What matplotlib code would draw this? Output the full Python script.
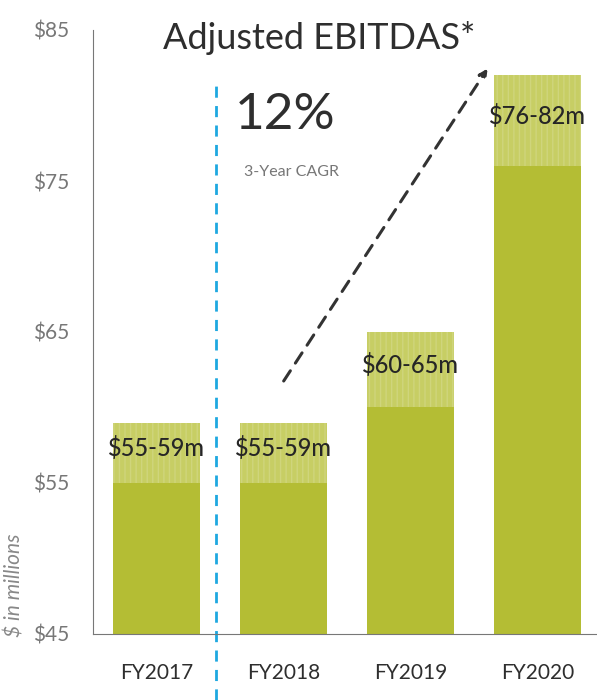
import numpy as np
import matplotlib.pyplot as plt

years = ["FY2017", "FY2018", "FY2019", "FY2020"]
low = [55, 55, 60, 76]
high = [59, 59, 65, 82]
yticks = [45, 55, 65, 75, 85]

solid = "#b4bd34"
light = "#c7ce64"

plt.rcParams['font.family'] = ['Lato', 'DejaVu Sans']

fig = plt.figure(figsize=(5.97, 7.0), dpi=100)
ax = fig.add_axes([93/597, 66/700, 504/597, 604/700])

x = np.arange(len(years))
base = yticks[0]
ax.bar(x, np.array(low) - base, bottom=base, width=0.69, color=solid, linewidth=0)
ax.bar(x, np.array(high) - np.array(low), bottom=low, width=0.69, color=light,
       linewidth=0, hatch='|||', edgecolor="#cfd57c")

for i in range(len(years)):
    ax.text(x[i], (low[i] + high[i]) / 2 + 0.3, "$%d-%dm" % (low[i], high[i]),
            ha='center', va='center', fontsize=17, color="#262626",
            fontweight='medium')

ax.set_xlim(-0.5, 3.47)
ax.set_ylim(45, 85)
ax.set_xticks(x)
ax.set_xticklabels(years, fontsize=15, color="#2e2e2e")
ax.set_yticks(yticks)
ax.set_yticklabels(["$%d" % v for v in yticks], fontsize=15, color="#777777")
ax.tick_params(length=0, pad=17)
ax.tick_params(axis='x', pad=21)
for s in ['top', 'right']:
    ax.spines[s].set_visible(False)
ax.spines['left'].set_color("#777777")
ax.spines['bottom'].set_color("#777777")

# divider between actual and forecast years
ax.plot([0.47, 0.47], [40.6, 81.8], color="#1ea8e0", lw=2, ls=(0, (4, 3)),
        clip_on=False)

# growth arrow
ax.annotate("", xy=(2.62, 82.6), xytext=(0.99, 61.6),
            arrowprops=dict(arrowstyle='-|>', color="#333333", lw=2.2,
                            linestyle=(0, (4, 3)), mutation_scale=12))

fig.text(0.534, 0.946, "Adjusted EBITDAS*", ha='center', va='center',
         fontsize=26, color="#2e2e2e")
ax.text(1.01, 79.4, "12%", ha='center', va='center', fontsize=37, color="#2e2e2e")
ax.text(1.06, 75.6, "3-Year CAGR", ha='center', va='center', fontsize=11.5, color="#777777")

fig.text(0.025, 0.164, "$ in millions", rotation=90, ha='center', va='center',
         fontsize=15, style='italic', color="#888888")

fig.savefig("out.png", dpi=100)
